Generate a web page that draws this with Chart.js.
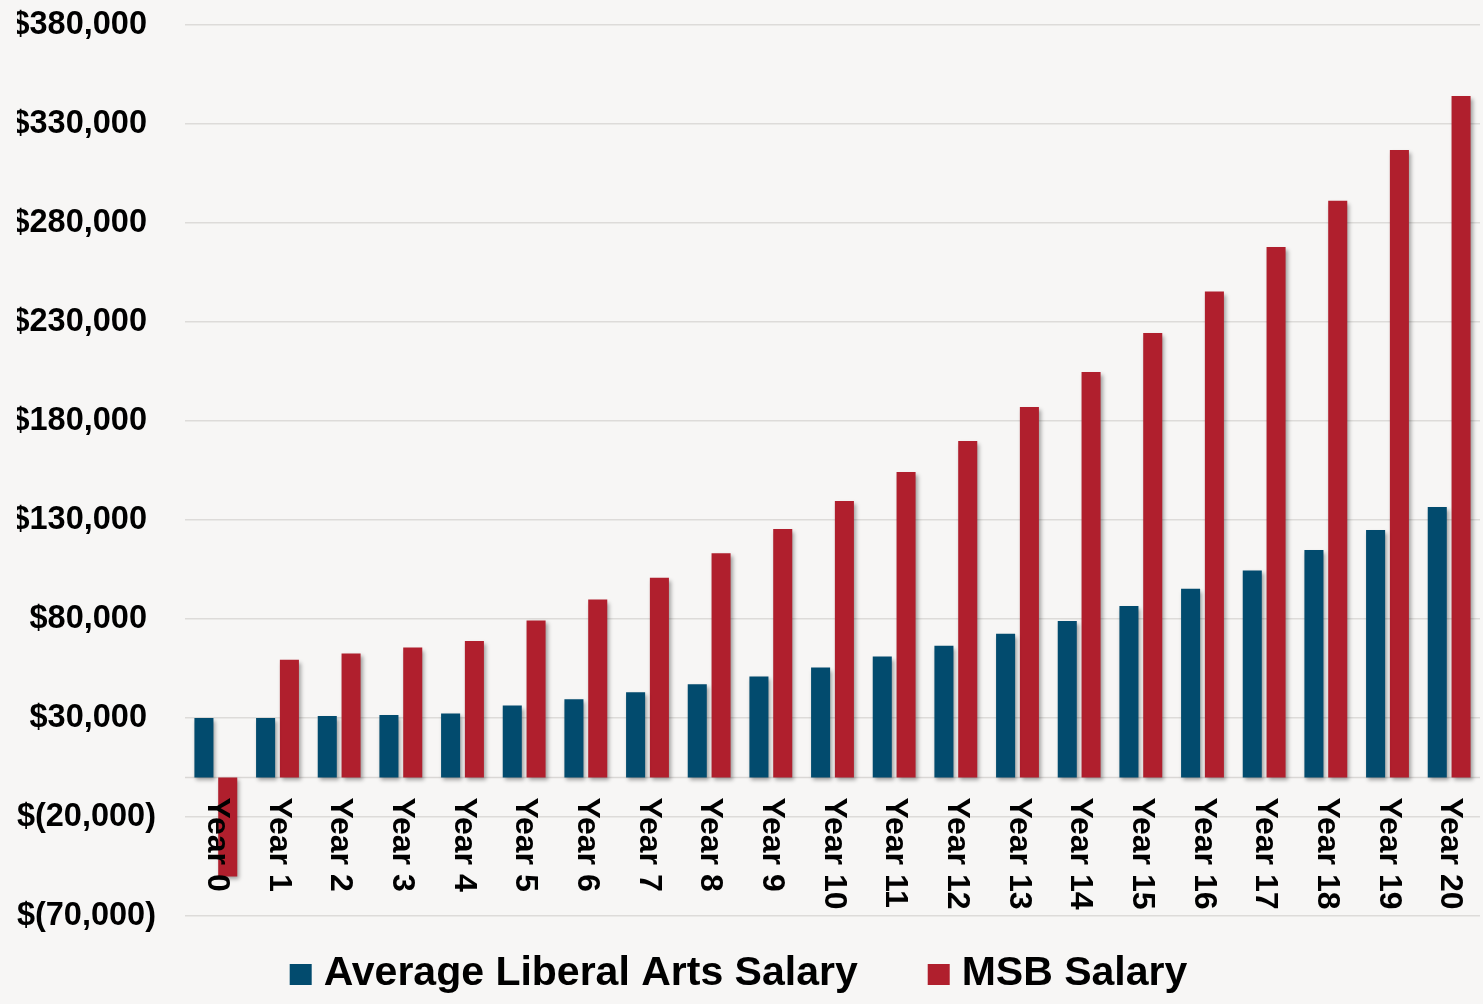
<!DOCTYPE html>
<html><head><meta charset="utf-8">
<script src="https://cdn.jsdelivr.net/npm/chart.js@4.4.1/dist/chart.umd.min.js"></script>
<style>html,body{margin:0;padding:0;background:#f7f6f5;}canvas{display:block;}</style>
</head><body>
<canvas id="c" width="1483" height="1004"></canvas>
<script>
const categories = ["Year 0","Year 1","Year 2","Year 3","Year 4","Year 5","Year 6","Year 7","Year 8","Year 9","Year 10",
  "Year 11","Year 12","Year 13","Year 14","Year 15","Year 16","Year 17","Year 18","Year 19","Year 20"];
const liberalArtsSalary = [30000,30000,31000,31500,32300,36300,39500,43000,47000,51000,55500,
  61000,66500,72600,79000,86600,95300,104500,114800,124900,136600];
const msbSalary = [-50000,59400,62600,65600,68900,79300,89800,100800,113200,125500,139600,
  154300,169900,187100,204800,224400,245400,267900,291200,316900,344200];
const yTicks = [-70000,-20000,30000,80000,130000,180000,230000,280000,330000,380000];
const seriesNames = ["Average Liberal Arts Salary","MSB Salary"];
const seriesColors = ["#024b6e","#b01f2d"];
const FONT = '"Liberation Sans", Arial, sans-serif';

function fmt(v){
  const s = Math.abs(v).toLocaleString('en-US');
  return v < 0 ? '$(' + s + ')' : '$' + s + ' ';
}

const bgPlugin = {
  id:'bg',
  beforeDraw(chart){
    const c = chart.ctx; c.save(); c.fillStyle = '#f7f6f5'; c.fillRect(0,0,chart.width,chart.height); c.restore();
  }
};

const decoPlugin = {
  id:'deco',
  beforeDatasetsDraw(chart){
    const {ctx, chartArea:a, scales:{y}} = chart;
    const y0 = y.getPixelForValue(0);
    ctx.save();
    ctx.strokeStyle = '#d9d7d5'; ctx.lineWidth = 1.5;
    ctx.beginPath(); ctx.moveTo(a.left, y0); ctx.lineTo(a.right, y0); ctx.stroke();
    ctx.restore();
    ctx.save();
    ctx.shadowColor = 'rgba(0,0,0,0.35)'; ctx.shadowBlur = 4; ctx.shadowOffsetX = 2; ctx.shadowOffsetY = 3;
  },
  afterDatasetsDraw(chart){
    const {ctx, scales:{x, y}} = chart;
    ctx.restore();
    const y0 = y.getPixelForValue(0);
    ctx.save();
    ctx.fillStyle = '#000'; ctx.font = 'bold 32px ' + FONT;
    ctx.textAlign = 'left'; ctx.textBaseline = 'middle';
    categories.forEach((lab, i) => {
      ctx.save();
      ctx.translate(x.getPixelForValue(i), y0 + 20);
      ctx.rotate(Math.PI / 2);
      ctx.fillText(lab, 0, -1);
      ctx.restore();
    });
    ctx.restore();
  },
  afterDraw(chart){
    const {ctx, chartArea:a} = chart;
    ctx.save();
    ctx.font = 'bold 41px ' + FONT;
    const w = seriesNames.map(n => ctx.measureText(n).width);
    const box = 22, gap = 12, spacing = 70;
    const total = w.reduce((s, v) => s + box + gap + v, 0) + spacing * (w.length - 1);
    let xx = chart.width / 2 - total / 2 - 3;
    const base = a.bottom + 69;
    seriesNames.forEach((n, i) => {
      ctx.fillStyle = seriesColors[i];
      ctx.fillRect(xx, base - 21, box, 21);
      ctx.fillStyle = '#000'; ctx.textBaseline = 'alphabetic'; ctx.textAlign = 'left';
      ctx.fillText(n, xx + box + gap, base);
      xx += box + gap + w[i] + spacing;
    });
    ctx.restore();
  }
};

new Chart(document.getElementById('c'), {
  type: 'bar',
  data: {
    labels: categories,
    datasets: [
      {label: seriesNames[0], data: liberalArtsSalary, backgroundColor: seriesColors[0], categoryPercentage: 0.772, barPercentage: 0.8},
      {label: seriesNames[1], data: msbSalary, backgroundColor: seriesColors[1], categoryPercentage: 0.772, barPercentage: 0.8}
    ]
  },
  options: {
    responsive: false,
    animation: false,
    layout: {padding: {left: 17, right: 3, top: 25, bottom: 88}},
    plugins: {legend: {display: false}, tooltip: {enabled: false}},
    scales: {
      x: {display: false},
      y: {
        min: -70000, max: 380000,
        afterBuildTicks(s){ s.ticks = yTicks.map(v => ({value: v})); },
        afterFit(s){ s.width = 168; s.paddingTop = 0; s.paddingBottom = 0; },
        border: {display: false},
        grid: {color: '#dddbd9', lineWidth: 1.5, drawTicks: false},
        ticks: {padding: 29, color: '#000', font: {family: FONT, size: 32.5, weight: 'bold'}, callback: (v) => fmt(v)}
      }
    }
  },
  plugins: [bgPlugin, decoPlugin]
});
</script>
</body></html>
